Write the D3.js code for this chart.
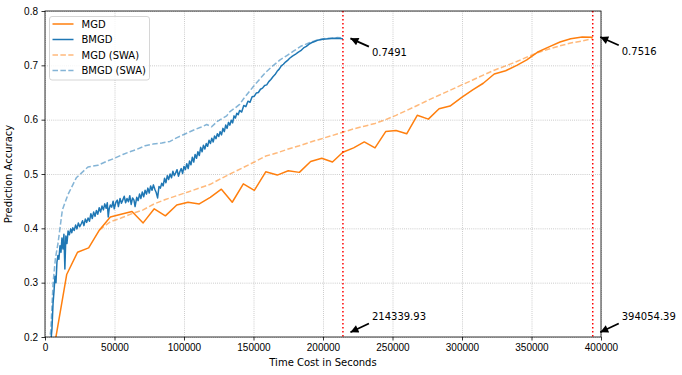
<!DOCTYPE html>
<html>
<head>
<meta charset="utf-8">
<script src="https://cdn.jsdelivr.net/npm/d3@7"></script>
<style>
  body { margin: 0; background: #fff; }
  svg { font-family: "DejaVu Sans", sans-serif; font-size: 10px; }
  .grid line { stroke: #b0b0b0; stroke-width: 0.8; stroke-dasharray: 0.8, 1.3; }
  .grid path { display: none; }
  .axis path, .axis line { stroke: #000; stroke-width: 0.8; }
  .axis text { fill: #000; font-size: 10px; }
</style>
</head>
<body>
<div id="chart"></div>
<script>
// Epoch time (s) and accuracy.
const mgd = [
  [7800, 0.199], [15600, 0.315], [23400, 0.356], [31400, 0.364], [39200, 0.397],
  [47000, 0.421], [54700, 0.426], [62600, 0.431], [70600, 0.410], [78600, 0.436],
  [86600, 0.423], [94800, 0.443], [102900, 0.448], [111000, 0.445], [118900, 0.457],
  [126900, 0.472], [134700, 0.448], [142700, 0.482], [150600, 0.470], [158800, 0.504],
  [167100, 0.498], [175000, 0.506], [183000, 0.503], [191100, 0.523], [199100, 0.529],
  [206800, 0.522], [214300, 0.540], [222000, 0.548], [229700, 0.559], [237400, 0.548],
  [245100, 0.578], [252500, 0.580], [260200, 0.574], [267800, 0.608], [275800, 0.601],
  [283500, 0.620], [291400, 0.625], [299800, 0.641], [307700, 0.655], [315300, 0.667],
  [323200, 0.684], [331400, 0.690], [339400, 0.700], [346600, 0.710], [354200, 0.724],
  [362600, 0.734], [370500, 0.743], [378200, 0.749], [386500, 0.752], [394054.39, 0.7516]
];

const bmgd = [
  [4000, 0.185], [5000, 0.215], [5800, 0.262], [6500, 0.285], [7200, 0.312],
  [7900, 0.300], [8600, 0.338], [9300, 0.350], [10000, 0.343], [10800, 0.368],
  [11500, 0.356], [12200, 0.382], [12900, 0.362], [13600, 0.389], [14300, 0.325],
  [15000, 0.386], [15800, 0.372], [16600, 0.395], [17500, 0.388], [18500, 0.399],
  [19300, 0.392], [20000, 0.401], [21000, 0.396], [22000, 0.406], [23000, 0.399],
  [24000, 0.410], [25000, 0.403], [26000, 0.408], [27000, 0.414], [28000, 0.405],
  [29000, 0.417], [30000, 0.411], [31000, 0.419], [32000, 0.413], [33000, 0.427],
  [34000, 0.418], [35000, 0.430], [36000, 0.422], [37000, 0.433], [38000, 0.426],
  [39000, 0.438], [40000, 0.430], [41000, 0.441], [42000, 0.434], [43000, 0.445],
  [44000, 0.437], [44800, 0.447], [45500, 0.421], [46200, 0.436], [47000, 0.443],
  [48000, 0.439], [49000, 0.450], [49800, 0.436], [51000, 0.448], [52000, 0.452],
  [52800, 0.440], [54000, 0.455], [55000, 0.446], [55800, 0.451], [57000, 0.459],
  [58000, 0.447], [59000, 0.455], [60000, 0.449], [61000, 0.460], [62000, 0.444],
  [63000, 0.456], [64000, 0.452], [64800, 0.440], [66000, 0.457], [67000, 0.451],
  [68000, 0.463], [69000, 0.455], [70000, 0.467], [71000, 0.458], [72000, 0.470],
  [73000, 0.463], [74000, 0.474], [75000, 0.465], [76000, 0.478], [77000, 0.470],
  [78000, 0.480], [79000, 0.472], [80000, 0.466], [81000, 0.456], [82000, 0.477],
  [83000, 0.474], [84000, 0.483], [85000, 0.478], [86000, 0.492], [87000, 0.484],
  [88000, 0.497], [89000, 0.490], [90000, 0.500], [91000, 0.493], [92000, 0.505],
  [93000, 0.497], [94000, 0.502], [95000, 0.508], [96000, 0.496], [97000, 0.504],
  [98000, 0.510], [99000, 0.501], [100000, 0.514], [101000, 0.508], [102000, 0.519],
  [103000, 0.510], [104000, 0.524], [105000, 0.517], [106000, 0.531], [107000, 0.522],
  [108000, 0.536], [109000, 0.529], [110000, 0.541], [111000, 0.534], [112000, 0.549],
  [113000, 0.541], [114000, 0.553], [115000, 0.546], [116000, 0.556], [117000, 0.551],
  [118000, 0.562], [119000, 0.556], [120000, 0.566], [121000, 0.559], [122000, 0.570],
  [123000, 0.565], [124000, 0.574], [125000, 0.569], [126000, 0.578], [127000, 0.572],
  [128000, 0.584], [129000, 0.578], [130000, 0.590], [131000, 0.584], [132000, 0.595],
  [133000, 0.590], [134000, 0.599], [135000, 0.594], [136000, 0.607], [137000, 0.603],
  [138000, 0.612], [139000, 0.609], [140000, 0.617], [141500, 0.614], [143000, 0.626],
  [144500, 0.624], [146000, 0.634], [147500, 0.632], [149000, 0.642], [150500, 0.643],
  [152000, 0.649], [153500, 0.650], [155000, 0.656], [156500, 0.658], [158000, 0.663],
  [159500, 0.664], [161000, 0.670], [162500, 0.674], [164000, 0.679], [165500, 0.683],
  [167000, 0.689], [168500, 0.693], [170000, 0.699], [171500, 0.702], [173000, 0.706],
  [174500, 0.709], [176000, 0.713], [178000, 0.717], [180000, 0.720], [182000, 0.724],
  [184000, 0.727], [186000, 0.732], [188000, 0.735], [190000, 0.739], [192000, 0.742],
  [194000, 0.744], [196000, 0.746], [198000, 0.747], [200000, 0.748], [204000, 0.749],
  [208000, 0.750], [212000, 0.7495], [214339.93, 0.7491]
];

const mgdSwa = [
  [39200, 0.397], [47000, 0.412], [54700, 0.419], [62600, 0.427], [70600, 0.434],
  [78600, 0.445], [86600, 0.453], [94800, 0.460], [102900, 0.467], [111000, 0.474],
  [118900, 0.481], [126900, 0.492], [134700, 0.502], [142700, 0.512], [150600, 0.522],
  [158800, 0.533], [167100, 0.539], [175000, 0.546], [183000, 0.552], [191100, 0.559],
  [199100, 0.565], [206800, 0.571], [214300, 0.577], [222000, 0.583], [229700, 0.588],
  [237400, 0.593], [245100, 0.600], [252500, 0.608], [260200, 0.617], [267800, 0.626],
  [275800, 0.636], [283500, 0.645], [291400, 0.654], [299800, 0.664], [307700, 0.673],
  [315300, 0.682], [323200, 0.691], [331400, 0.699], [339400, 0.707], [346600, 0.715],
  [354200, 0.723], [362600, 0.730], [370500, 0.736], [378200, 0.741], [386500, 0.745],
  [394054.39, 0.749]
];

const bmgdSwa = [
  [3000, 0.190], [4200, 0.213], [5800, 0.299], [7500, 0.345], [9400, 0.373],
  [12500, 0.434], [16500, 0.462], [22500, 0.493], [30900, 0.513], [38100, 0.516],
  [44000, 0.523], [50100, 0.529], [56000, 0.536], [61000, 0.541], [65700, 0.545],
  [72000, 0.552], [77700, 0.555], [84000, 0.557], [89900, 0.560], [95000, 0.567],
  [101900, 0.575], [108000, 0.582], [112000, 0.586], [116300, 0.591], [119900, 0.587],
  [124000, 0.597], [130700, 0.607], [133100, 0.615], [137000, 0.622], [140000, 0.628],
  [143000, 0.639], [149900, 0.661], [158300, 0.686], [163000, 0.697], [169100, 0.710],
  [174000, 0.718], [178700, 0.726], [184000, 0.735], [190600, 0.742], [195000, 0.746],
  [200200, 0.749], [205000, 0.750], [209900, 0.751], [214339.93, 0.7505]
];

const xTicks = [0, 50000, 100000, 150000, 200000, 250000, 300000, 350000, 400000];
const yTicks = [0.2, 0.3, 0.4, 0.5, 0.6, 0.7, 0.8];

// Finish times of both runs and their final accuracies.
const finishTimes = [214339.93, 394054.39];
const finalAcc = [0.7491, 0.7516];

const series = [
  {title: 'MGD', color: '#ff7f0e', data: mgd, dashed: false},
  {title: 'BMGD', color: '#1f77b4', data: bmgd, dashed: false},
  {title: 'MGD (SWA)', color: '#ff7f0e', data: mgdSwa, dashed: true},
  {title: 'BMGD (SWA)', color: '#1f77b4', data: bmgdSwa, dashed: true}
];

const width = 682;
const height = 375;
const margin = {top: 11, right: 81, bottom: 38, left: 45};
const innerW = width - margin.left - margin.right;
const innerH = height - margin.top - margin.bottom;

const x = d3.scaleLinear().domain([0, 400000]).range([0, innerW]);
const y = d3.scaleLinear().domain([0.2, 0.8]).range([innerH, 0]);

const svg = d3.select('#chart').append('svg')
  .attr('width', width)
  .attr('height', height);

svg.append('defs').append('clipPath')
  .attr('id', 'plot-clip')
  .append('rect')
    .attr('width', innerW)
    .attr('height', innerH);

const marker = svg.select('defs').append('marker')
  .attr('id', 'arrow-head')
  .attr('viewBox', '0 0 10 10')
  .attr('refX', 10)
  .attr('refY', 5)
  .attr('markerUnits', 'userSpaceOnUse')
  .attr('markerWidth', 10)
  .attr('markerHeight', 8)
  .attr('orient', 'auto');
marker.append('path')
  .attr('d', 'M0,0 L10,5 L0,10 Z')
  .attr('fill', '#000');

const g = svg.append('g')
  .attr('transform', `translate(${margin.left},${margin.top})`);

// grid
g.append('g')
  .attr('class', 'grid')
  .attr('transform', `translate(0,${innerH})`)
  .call(d3.axisBottom(x).tickValues(xTicks).tickSize(-innerH).tickFormat(''));

g.append('g')
  .attr('class', 'grid')
  .call(d3.axisLeft(y).tickValues(yTicks).tickSize(-innerW).tickFormat(''));

const line = d3.line()
  .x(d => x(d[0]))
  .y(d => y(d[1]));

const lines = g.append('g').attr('clip-path', 'url(#plot-clip)');

lines.selectAll('.chart-line')
  .data(series)
  .enter()
  .append('path')
    .classed('chart-line', true)
    .attr('d', s => line(s.data))
    .attr('fill', 'none')
    .attr('stroke', s => s.color)
    .attr('stroke-opacity', s => s.dashed ? 0.55 : 1)
    .attr('stroke-width', 1.5)
    .attr('stroke-dasharray', s => s.dashed ? '5.5,2.4' : null)
    .attr('stroke-linejoin', 'round');

// finish time markers
g.selectAll('.finish-line')
  .data(finishTimes)
  .enter()
  .append('line')
    .classed('finish-line', true)
    .attr('x1', d => x(d))
    .attr('x2', d => x(d))
    .attr('y1', 0)
    .attr('y2', innerH)
    .attr('stroke', 'red')
    .attr('stroke-width', 1.5)
    .attr('stroke-dasharray', '1.5,2.5');

// axes
const xAxis = g.append('g')
  .attr('class', 'axis')
  .attr('transform', `translate(0,${innerH})`)
  .call(d3.axisBottom(x).tickValues(xTicks).tickSize(3.5).tickPadding(3.5).tickFormat(d3.format('d')));

const yAxis = g.append('g')
  .attr('class', 'axis')
  .call(d3.axisLeft(y).tickValues(yTicks).tickSize(3.5).tickPadding(3.5).tickFormat(d3.format('.1f')));

[xAxis, yAxis].forEach(a => a.select('.domain').remove());

// spines
g.append('rect')
  .attr('width', innerW)
  .attr('height', innerH)
  .attr('fill', 'none')
  .attr('stroke', '#000')
  .attr('stroke-width', 0.8);

g.append('text')
  .attr('x', innerW / 2)
  .attr('y', innerH + 29)
  .attr('text-anchor', 'middle')
  .text('Time Cost in Seconds');

g.append('text')
  .attr('transform', `translate(${-33},${innerH / 2}) rotate(-90)`)
  .attr('text-anchor', 'middle')
  .text('Prediction Accuracy');

// annotations: final accuracy near the top, finish time at the bottom
const notes = [
  {x: finishTimes[0], y: finalAcc[0], label: finalAcc[0].toFixed(4), top: true},
  {x: finishTimes[1], y: finalAcc[1], label: finalAcc[1].toFixed(4), top: true},
  {x: finishTimes[0], y: 0.2, label: finishTimes[0].toFixed(2), top: false},
  {x: finishTimes[1], y: 0.2, label: finishTimes[1].toFixed(2), top: false}
];

const note = g.selectAll('.note')
  .data(notes)
  .enter()
  .append('g')
    .classed('note', true)
    .attr('transform', d => `translate(${x(d.x)},${y(d.y)})`);

note.append('line')
  .attr('x1', 26)
  .attr('y1', d => d.top ? 8 : -13.5)
  .attr('x2', 7.5)
  .attr('y2', d => d.top ? -0.3 : -4.7)
  .attr('stroke', '#000')
  .attr('stroke-width', 1.8)
  .attr('marker-end', 'url(#arrow-head)');

note.append('text')
  .attr('x', 29)
  .attr('y', d => d.top ? 14 : -20.5)
  .attr('dy', '0.35em')
  .text(d => d.label);

// legend
const legend = g.append('g')
  .attr('transform', 'translate(4.5,5.5)');

legend.append('rect')
  .attr('width', 100)
  .attr('height', 63.5)
  .attr('rx', 2.5)
  .attr('fill', '#fff')
  .attr('fill-opacity', 0.8)
  .attr('stroke', '#ccc')
  .attr('stroke-width', 0.8);

const item = legend.selectAll('.legend-item')
  .data(series)
  .enter()
  .append('g')
    .classed('legend-item', true)
    .attr('transform', (d, i) => `translate(0,${7.5 + i * 15.5})`);

item.append('line')
  .attr('x1', 3)
  .attr('x2', 24)
  .attr('stroke', d => d.color)
  .attr('stroke-opacity', d => d.dashed ? 0.55 : 1)
  .attr('stroke-width', 1.5)
  .attr('stroke-dasharray', d => d.dashed ? '5.5,2.4' : null);

item.append('text')
  .attr('x', 32)
  .attr('dy', '0.35em')
  .text(d => d.title);
</script>
</body>
</html>
